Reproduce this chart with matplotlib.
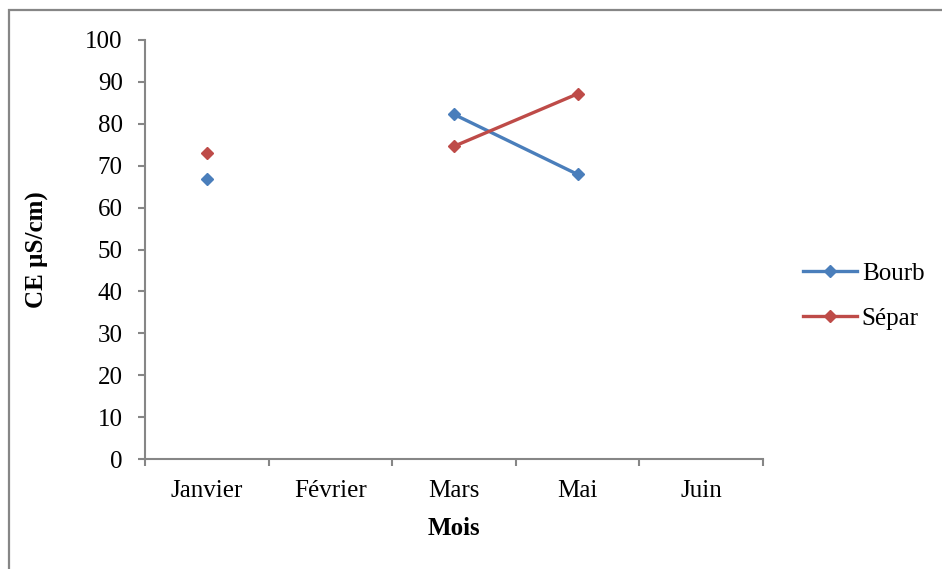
import matplotlib
matplotlib.use("Agg")
import matplotlib.pyplot as plt
from matplotlib.patches import Rectangle
import numpy as np

months = ["Janvier", "Février", "Mars", "Mai", "Juin"]
bourb = [66.7, np.nan, 82.2, 67.9, np.nan]
separ = [73.0, np.nan, 74.6, 87.1, np.nan]
series_names = ["Bourb", "Sépar"]
y_ticks = list(range(0, 101, 10))

plt.rcParams["font.family"] = ["Liberation Serif", "DejaVu Serif"]

W, H = 942, 569
FS = 18
fig = plt.figure(figsize=(W / 100, H / 100), dpi=100)
ax = fig.add_axes([145 / W, 1 - 459.3 / H, (763 - 145) / W, (459.3 - 39.7) / H])

blue = "#4A7EBB"
red = "#BE4B48"
x = np.arange(len(months))
ax.plot(x, bourb, color=blue, lw=2.4, marker="D", ms=6.5, label=series_names[0])
ax.plot(x, separ, color=red, lw=2.4, marker="D", ms=6.5, label=series_names[1])

ax.set_xlim(-0.5, len(months) - 0.5)
ax.set_ylim(0, 100)
ax.set_yticks(y_ticks)
ax.set_xticks(x)
ax.set_xticklabels(months)
ax.set_xticks(np.arange(-0.5, len(months), 1.0), minor=True)

spine_col = "#868686"
for side in ("top", "right"):
    ax.spines[side].set_visible(False)
for side in ("left", "bottom"):
    ax.spines[side].set_color(spine_col)
    ax.spines[side].set_linewidth(1.5)

ax.tick_params(axis="y", direction="out", length=5, width=1.5, color=spine_col,
               labelsize=FS, pad=11)
ax.tick_params(axis="x", which="major", length=0, labelsize=FS, pad=15)
ax.tick_params(axis="x", which="minor", direction="out", length=5, width=1.5,
               color=spine_col)

ax.set_xlabel("Mois", fontsize=FS, fontweight="bold", labelpad=11)
fig.text(37 / W, 1 - 250 / H, "CE µS/cm)", rotation=90, fontsize=FS,
         fontweight="bold", ha="center", va="center")

ax.legend(loc="center left", bbox_to_anchor=(783 / W, 1 - 296 / H),
          bbox_transform=fig.transFigure, frameon=False, fontsize=FS,
          handlelength=2.15, handletextpad=0.2, labelspacing=0.9,
          borderpad=0.3)

# chart area frame
fig.patches.append(Rectangle((9 / W, -0.05), 1.1, 1 - 10 / H + 0.05,
                             transform=fig.transFigure, fill=False,
                             edgecolor=spine_col, lw=1.6))

fig.savefig("out.png", dpi=100)
